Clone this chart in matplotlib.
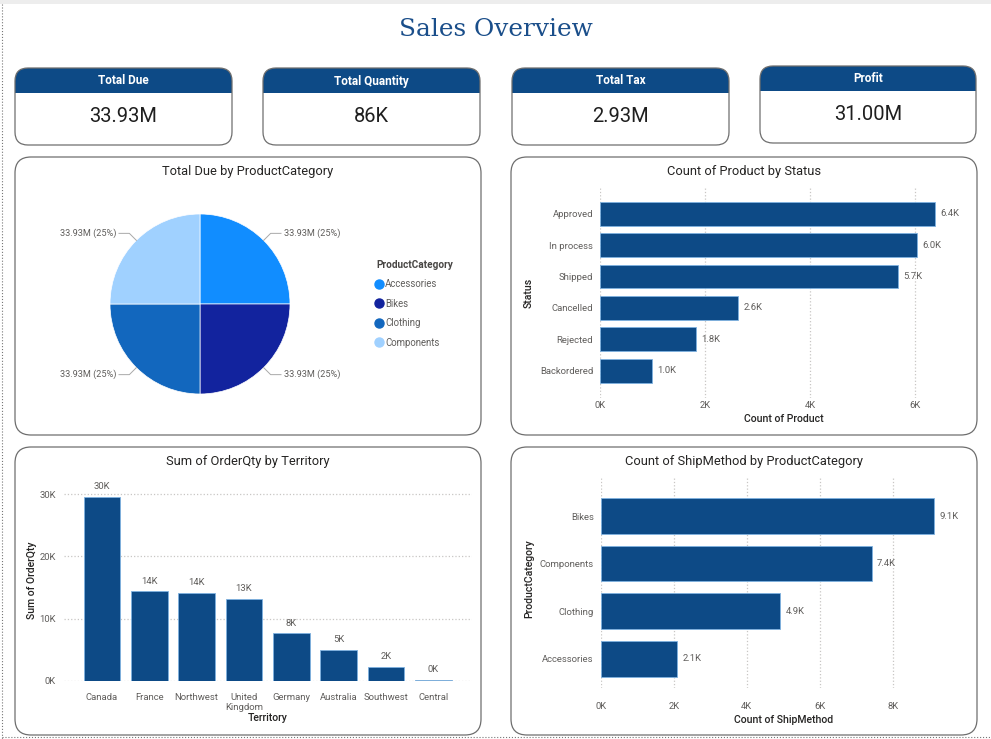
import matplotlib
matplotlib.use('Agg')
import matplotlib.pyplot as plt
from matplotlib.patches import FancyBboxPatch, Rectangle
from matplotlib.lines import Line2D
from matplotlib.ticker import FuncFormatter
import numpy as np

plt.rcParams['font.family'] = ['Roboto', 'DejaVu Sans']

W, H = 991, 739

# ---- data ----
kpi_names = ['Total Due', 'Total Quantity', 'Total Tax', 'Profit']
kpi_values = ['33.93M', '86K', '2.93M', '31.00M']

pie_categories = ['Accessories', 'Bikes', 'Clothing', 'Components']
pie_values = [33.93e6, 33.93e6, 33.93e6, 33.93e6]
pie_colors = ['#118DFF', '#12239E', '#1267BE', '#A0D1FF']

status_names = ['Approved', 'In process', 'Shipped', 'Cancelled', 'Rejected', 'Backordered']
status_counts = [6380, 6030, 5670, 2630, 1830, 990]

territories = ['Canada', 'France', 'Northwest', 'United\nKingdom', 'Germany',
               'Australia', 'Southwest', 'Central']
order_qty = [29600, 14400, 14100, 13200, 7600, 5000, 2250, 150]

ship_categories = ['Bikes', 'Components', 'Clothing', 'Accessories']
ship_counts = [9120, 7420, 4920, 2080]

# ---- styles ----
BAR = '#0D4A86'
BAR_EDGE = '#7FB2E0'
HEAD = '#0D4A86'
GRAY_TXT = '#605E5C'
DARK_TXT = '#252423'
BORDER = '#6E6E6E'
GRID = '#C8C6C4'


def box(x0, y0, x1, y1):
    # pixel box (top-left origin) -> figure fraction rect
    return [x0 / W, 1 - y1 / H, (x1 - x0) / W, (y1 - y0) / H]


def kfmt(v, pos=None):
    return f'{v / 1000:.0f}K'


fig = plt.figure(figsize=(W / 100, H / 100), dpi=100)
bg = fig.add_axes([0, 0, 1, 1])
bg.set_xlim(0, W)
bg.set_ylim(H, 0)
bg.axis('off')

# page decorations
bg.add_patch(Rectangle((0, 0), W, 4, fc='#EDEDED', ec='none'))
bg.plot([2, 2], [4, H], ls=':', color='#777777', lw=0.8)
bg.plot([2, W], [737, 737], ls=':', color='#777777', lw=0.8)

bg.text(496, 30, 'Sales Overview', ha='center', va='center', fontsize=17.8,
        family='DejaVu Serif', color='#1A4E8A')

# ---- KPI cards ----
cards = [(15, 68, 232, 145), (263, 68, 480, 145), (512, 68, 729, 145), (760, 66, 976, 143)]
for (x0, y0, x1, y1), name, val in zip(cards, kpi_names, kpi_values):
    card = FancyBboxPatch((x0, y0), x1 - x0, y1 - y0, boxstyle='round,pad=0,rounding_size=13',
                          fc='white', ec='none')
    bg.add_patch(card)
    head = Rectangle((x0, y0), x1 - x0, 25, fc=HEAD, ec='none')
    head.set_clip_path(card)
    bg.add_patch(head)
    bg.add_patch(FancyBboxPatch((x0, y0), x1 - x0, y1 - y0, boxstyle='round,pad=0,rounding_size=13',
                                fc='none', ec=BORDER, lw=0.9))
    cx = (x0 + x1) / 2
    bg.text(cx, y0 + 13, name, ha='center', va='center', fontsize=8.5, fontweight='bold', color='white')
    bg.text(cx, y0 + 49, val, ha='center', va='center', fontsize=14.5, color='#1F1F1F')

# ---- chart panels ----
panels = [(15, 157, 481, 435, 'Total Due by ProductCategory'),
          (511, 157, 977, 435, 'Count of Product by Status'),
          (15, 447, 481, 735, 'Sum of OrderQty by Territory'),
          (511, 447, 977, 735, 'Count of ShipMethod by ProductCategory')]
for x0, y0, x1, y1, t in panels:
    bg.add_patch(FancyBboxPatch((x0, y0), x1 - x0, y1 - y0, boxstyle='round,pad=0,rounding_size=16',
                                fc='white', ec=BORDER, lw=0.9))
    bg.text((x0 + x1) / 2, y0 + 14, t, ha='center', va='center', fontsize=9.3, color=DARK_TXT)

# ---- pie ----
ax_pie = fig.add_axes(box(110, 214, 290, 394))
wedges, _ = ax_pie.pie(pie_values, colors=pie_colors, startangle=90, counterclock=False,
                       radius=1, wedgeprops=dict(linewidth=0.5, edgecolor='white'))
ax_pie.set_xlim(-1, 1)
ax_pie.set_ylim(-1, 1)
total = sum(pie_values)
for w, v in zip(wedges, pie_values):
    ang = np.deg2rad((w.theta1 + w.theta2) / 2)
    cx, cy = np.cos(ang), np.sin(ang)
    side = 1 if cx >= 0 else -1
    ex, ey = 1.11 * cx, 1.11 * cy
    ax_pie.plot([1.0 * cx, ex, side * 0.9], [1.0 * cy, ey, ey], color='#A8A8A8', lw=0.7, clip_on=False)
    ax_pie.text(side * 0.93, ey, f'{v / 1e6:.2f}M ({v / total * 100:.0f}%)',
                ha='left' if side > 0 else 'right', va='center', fontsize=6.6, color=GRAY_TXT)

handles = [Line2D([], [], marker='o', ls='none', markerfacecolor=c, markeredgecolor=c, markersize=6.5)
           for c in pie_colors]
leg = ax_pie.legend(handles, pie_categories, title='ProductCategory', loc='upper left',
                    bbox_to_anchor=(376 / W, 1 - 260 / H), bbox_transform=fig.transFigure,
                    frameon=False, alignment='left', handlelength=0.7, handletextpad=0.25,
                    labelspacing=0.98, borderpad=0, borderaxespad=0, fontsize=6.9,
                    title_fontproperties={'weight': 'bold', 'size': 7.2})
leg.get_title().set_color('#484644')
for txt in leg.get_texts():
    txt.set_color(GRAY_TXT)


def style_axes(ax, value_axis):
    for s in ax.spines.values():
        s.set_visible(False)
    ax.tick_params(length=0, labelsize=6.8, labelcolor=GRAY_TXT)
    ax.grid(axis=value_axis, ls=':', color=GRID, lw=0.9)
    ax.set_axisbelow(True)


LABEL_KW = dict(fontsize=7.6, color=DARK_TXT, fontweight='medium')

# ---- count of product by status ----
ax_s = fig.add_axes(box(600, 188, 967.5, 398))
ys = np.arange(len(status_names))
bars = ax_s.barh(ys, status_counts, height=0.76, color=BAR, edgecolor=BAR_EDGE, lw=0.6)
ax_s.set_ylim(5.87, -0.82)
ax_s.set_xlim(0, 7000)
ax_s.set_yticks(ys, status_names)
ax_s.set_xticks([0, 2000, 4000, 6000])
ax_s.xaxis.set_major_formatter(FuncFormatter(kfmt))
style_axes(ax_s, 'x')
ax_s.tick_params(axis='x', pad=2.5)
ax_s.tick_params(axis='y', pad=5)
ax_s.bar_label(bars, labels=[f'{v / 1000:.1f}K' for v in status_counts], padding=4,
               fontsize=6.8, color=GRAY_TXT)
ax_s.set_xlabel('Count of Product', labelpad=2.5, **LABEL_KW)
ax_s.set_ylabel('Status', **LABEL_KW)
ax_s.yaxis.set_label_coords((534 - 600) / 367.5, 0.5)

# ---- sum of orderqty by territory ----
ax_t = fig.add_axes(box(64, 488, 472, 680.7))
xs = np.arange(len(territories))
bars = ax_t.bar(xs, order_qty, width=0.775, color=BAR, edgecolor=BAR_EDGE, lw=0.6)
ax_t.set_xlim(-0.8, 7.82)
ax_t.set_ylim(0, 31000)
ax_t.set_xticks(xs, territories)
ax_t.set_yticks([0, 10000, 20000, 30000])
ax_t.yaxis.set_major_formatter(FuncFormatter(kfmt))
style_axes(ax_t, 'y')
ax_t.tick_params(axis='x', pad=8.5)
ax_t.tick_params(axis='y', pad=6)
for lbl in ax_t.get_xticklabels():
    lbl.set_linespacing(1.15)
ax_t.bar_label(bars, labels=[kfmt(v) for v in order_qty], padding=4, fontsize=6.8, color=GRAY_TXT)
ax_t.set_xlabel('Territory', labelpad=1, **LABEL_KW)
ax_t.set_ylabel('Sum of OrderQty', **LABEL_KW)
ax_t.yaxis.set_label_coords((37 - 64) / 408, 0.52)

# ---- count of shipmethod by productcategory ----
ax_m = fig.add_axes(box(600.7, 478, 965.7, 688))
ys = np.arange(len(ship_categories))
bars = ax_m.barh(ys, ship_counts, height=0.756, color=BAR, edgecolor=BAR_EDGE, lw=0.6)
ax_m.set_ylim(3.62, -0.8)
ax_m.set_xlim(0, 10000)
ax_m.set_yticks(ys, ship_categories)
ax_m.set_xticks([0, 2000, 4000, 6000, 8000])
ax_m.xaxis.set_major_formatter(FuncFormatter(kfmt))
style_axes(ax_m, 'x')
ax_m.tick_params(axis='x', pad=10)
ax_m.tick_params(axis='y', pad=5)
ax_m.bar_label(bars, labels=[f'{v / 1000:.1f}K' for v in ship_counts], padding=4,
               fontsize=6.8, color=GRAY_TXT)
ax_m.set_xlabel('Count of ShipMethod', labelpad=3, **LABEL_KW)
ax_m.set_ylabel('ProductCategory', **LABEL_KW)
ax_m.yaxis.set_label_coords((534 - 600.7) / 365, 0.52)

fig.savefig('out.png', dpi=100)
